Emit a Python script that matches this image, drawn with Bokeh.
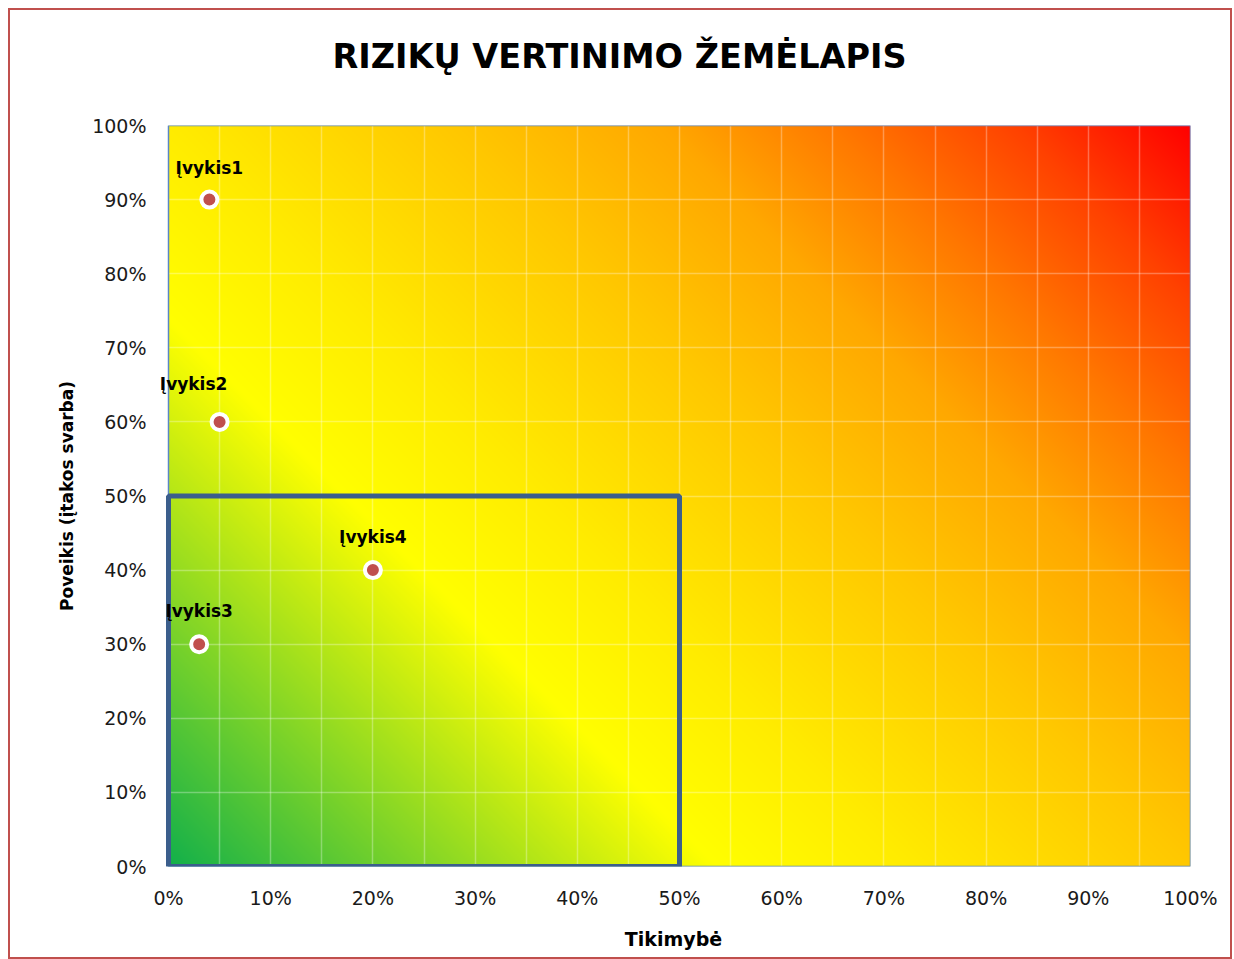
import numpy as np
from bokeh.plotting import figure
from bokeh.models import Title, FixedTicker, Range1d, ColumnDataSource, LabelSet
from bokeh.core.properties import value
from bokeh.embed import file_html
from bokeh.resources import INLINE

# ---------------- data ----------------
events = ["Įvykis1", "Įvykis2", "Įvykis3", "Įvykis4"]
likelihood = [0.04, 0.05, 0.03, 0.20]      # Tikimybė
impact = [0.90, 0.60, 0.30, 0.40]          # Poveikis
tick_values = [0.0, 0.1, 0.2, 0.3, 0.4, 0.5, 0.6, 0.7, 0.8, 0.9, 1.0]
tick_labels = ["0%", "10%", "20%", "30%", "40%", "50%", "60%", "70%", "80%", "90%", "100%"]
zone_limit_x = 0.5
zone_limit_y = 0.5

title_text = "RIZIKŲ VERTINIMO ŽEMĖLAPIS"
x_label = "Tikimybė"
y_label = "Poveikis (įtakos svarba)"

# ---------------- layout / style ----------------
FRAME_W, FRAME_H = 1022, 741
PAD_L = 12                       # extra white strip left of the chart area (lets labels overhang)
label_dx = [0, -26, 0, 0]
label_dy = [32, 38, 33, 33]

p = figure(width=1224, height=951, output_backend="svg", toolbar_location=None,
           x_range=Range1d(-PAD_L / FRAME_W, 1), y_range=Range1d(0, 1),
           min_border_left=158 - PAD_L, min_border_right=44, min_border_top=115, min_border_bottom=95)
p.styles = {"border": "2px solid #C0504D", "margin": "8px 0 0 8px"}
p.background_fill_color = "white"
p.border_fill_color = "white"
p.outline_line_color = None

# background gradient (green -> yellow -> orange -> red, 45deg in pixel space)
nx, ny = 511, 371
u = (np.arange(nx) + 0.5) / nx
v = (np.arange(ny) + 0.5) / ny
U, V = np.meshgrid(u, v)
t = (U * FRAME_W + V * FRAME_H) / (FRAME_W + FRAME_H)
stops = [0.0, 0.31, 0.42, 0.58, 0.70, 0.80, 0.90, 1.0]
reds = [18, 255, 255, 255, 255, 255, 255, 255]
greens = [176, 255, 236, 200, 168, 120, 66, 0]
blues = [75, 0, 0, 0, 0, 0, 0, 0]
R = np.interp(t, stops, reds).astype(np.uint32)
G = np.interp(t, stops, greens).astype(np.uint32)
B = np.interp(t, stops, blues).astype(np.uint32)
img = ((255 << 24) | (B << 16) | (G << 8) | R).astype(np.uint32)
r_img = p.image_rgba(image=[img], x=0, y=0, dw=1, dh=1)
r_img.level = "image"

# grid
p.xgrid.ticker = FixedTicker(ticks=list(np.round(np.arange(0, 1.0001, 0.05), 2)))
p.ygrid.ticker = FixedTicker(ticks=tick_values)
for g in (p.xgrid, p.ygrid):
    g.grid_line_color = "white"
    g.grid_line_alpha = 0.3
    g.grid_line_width = 1.5

# chart-area outline
p.quad(left=[0], right=[1], bottom=[0], top=[1], fill_color=None,
       line_color="#5B87C5", line_width=1.5)

# axes
overrides = {v_: l_ for v_, l_ in zip(tick_values, tick_labels)}
for ax in (p.xaxis, p.yaxis):
    ax.ticker = FixedTicker(ticks=tick_values)
    ax.major_label_overrides = overrides
    ax.axis_line_color = None
    ax.major_tick_line_color = None
    ax.minor_tick_line_color = None
    ax.major_tick_out = 0
    ax.major_tick_in = 0
    ax.major_label_text_font = "DejaVu Sans"
    ax.major_label_text_font_size = "19px"
    ax.major_label_text_color = "#1a1a1a"
    ax.axis_label_text_font = "DejaVu Sans"
    ax.axis_label_text_font_style = "bold"
    ax.axis_label_text_color = "black"
p.xaxis.major_label_standoff = 20
p.yaxis.major_label_standoff = 22 - PAD_L
p.xaxis.axis_label = x_label
p.yaxis.axis_label = y_label
p.xaxis.axis_label_text_font_size = "19px"
p.yaxis.axis_label_text_font_size = "17px"
p.xaxis.axis_label_standoff = 16
p.yaxis.axis_label_standoff = 12

# low-risk zone rectangle
p.quad(left=[0], right=[zone_limit_x], bottom=[0], top=[zone_limit_y],
       fill_color=None, line_color="#3B5E8C", line_width=5)

# points
src = ColumnDataSource(dict(x=likelihood, y=impact, name=events, dx=label_dx, dy=label_dy))
p.scatter("x", "y", source=src, size=16, fill_color="#C0504D", line_color="white", line_width=4)
p.add_layout(LabelSet(x="x", y="y", text="name", source=src, x_offset="dx", y_offset="dy",
                      text_align="center", text_baseline="middle",
                      text_font=value("DejaVu Sans"), text_font_style="bold",
                      text_font_size="17px", text_color="black"))

# title
title = Title(text=title_text, align="left", offset=164 + PAD_L, standoff=74,
              text_font="DejaVu Sans", text_font_style="bold", text_font_size="33.5px",
              text_color="black")
try:
    title.padding = dict(left=0, right=0, top=0, bottom=50)
    title.standoff = 0
except Exception:
    pass
p.add_layout(title, "above")

open("out.html", "w").write(file_html(p, INLINE))
